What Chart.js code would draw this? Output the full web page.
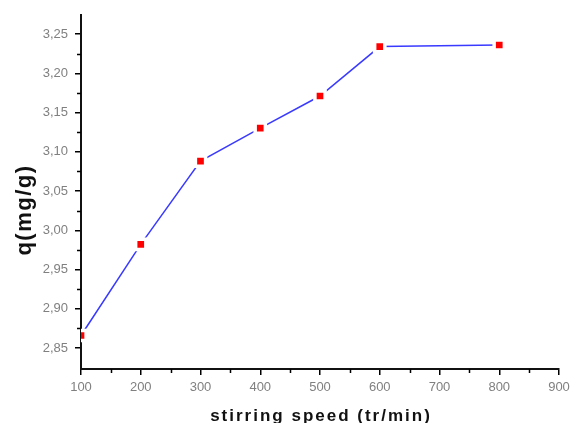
<!DOCTYPE html>
<html>
<head>
<meta charset="utf-8">
<script src="https://cdn.jsdelivr.net/npm/chart.js@4"></script>
<style>
  html, body { margin: 0; padding: 0; background: #fff; }
  #wrap { width: 571px; height: 423px; }
</style>
</head>
<body>
<div id="wrap"><canvas id="qChart" width="571" height="423"></canvas></div>
<script>
// data
const speeds = [100, 200, 300, 400, 500, 600, 800];
const qValues = [2.866, 2.982, 3.088, 3.130, 3.171, 3.234, 3.236];

const xTicks = [100, 200, 300, 400, 500, 600, 700, 800, 900];
const xMinorTicks = [150, 250, 350, 450, 550, 650, 750, 850];
const yTicks = [2.85, 2.90, 2.95, 3.00, 3.05, 3.10, 3.15, 3.20, 3.25];
const yMinorTicks = [2.875, 2.925, 2.975, 3.025, 3.075, 3.125, 3.175, 3.225];

const xTitle = 'stirring speed (tr/min)';
const yTitle = 'q(mg/g)';

const tickFont = { family: '"Liberation Sans", Arial, sans-serif', size: 13 };
const tickColor = '#808080';

// minor ticks + axis titles (Origin style)
const extrasPlugin = {
    id: 'extras',
    afterDraw(chart) {
        const ctx = chart.ctx;
        const area = chart.chartArea;
        const xs = chart.scales.x, ys = chart.scales.y;
        ctx.save();
        ctx.strokeStyle = '#000';
        ctx.lineWidth = 1.5;
        ctx.beginPath();
        yMinorTicks.forEach(v => {
            const y = Math.round(ys.getPixelForValue(v)) + 0.5;
            ctx.moveTo(area.left - 4, y);
            ctx.lineTo(area.left, y);
        });
        xMinorTicks.forEach(v => {
            const x = Math.round(xs.getPixelForValue(v)) + 0.5;
            ctx.moveTo(x, area.bottom);
            ctx.lineTo(x, area.bottom + 4);
        });
        ctx.stroke();

        ctx.fillStyle = '#111';
        ctx.textAlign = 'center';
        ctx.textBaseline = 'alphabetic';
        ctx.font = 'bold 17px "Liberation Sans", Arial, sans-serif';
        ctx.letterSpacing = '2px';
        ctx.fillText(xTitle, (area.left + area.right) / 2 + 1, 421);

        ctx.translate(31, 210);
        ctx.rotate(-Math.PI / 2);
        ctx.font = 'bold 22px "Liberation Sans", Arial, sans-serif';
        ctx.letterSpacing = '1.5px';
        ctx.fillText(yTitle, 0, 0);
        ctx.restore();
    }
};

const ctx = document.getElementById('qChart').getContext('2d');
const qChart = new Chart(ctx, {
    type: 'line',
    data: {
        labels: speeds,
        datasets: [
            {
                // markers with white halo so the line stops short of them
                data: speeds.map((s, i) => ({ x: s, y: qValues[i] })),
                showLine: false,
                pointStyle: 'rect',
                pointRadius: 7.2,
                pointHoverRadius: 7.2,
                pointBackgroundColor: '#ff0000',
                pointBorderColor: '#ffffff',
                pointBorderWidth: 3.5,
                borderWidth: 3.5
            },
            {
                data: speeds.map((s, i) => ({ x: s, y: qValues[i] })),
                borderColor: '#3a3aff',
                borderWidth: 1.5,
                pointRadius: 0,
                tension: 0
            }
        ]
    },
    options: {
        responsive: false,
        animation: false,
        events: [],
        layout: { padding: { left: 0, top: 15, right: 12, bottom: 0 } },
        plugins: {
            legend: { display: false },
            tooltip: { enabled: false }
        },
        scales: {
            x: {
                type: 'linear',
                min: 100,
                max: 900,
                z: 1,
                afterBuildTicks: scale => { scale.ticks = xTicks.map(v => ({ value: v })); },
                afterFit: scale => {
                    scale.height = 54;
                    scale.paddingLeft = 0;
                    scale.paddingRight = 0;
                },
                grid: { drawOnChartArea: false, drawTicks: true, tickLength: 6, color: '#000', lineWidth: 1.5 },
                border: { display: true, color: '#111', width: 2 },
                ticks: { color: tickColor, font: tickFont, padding: 5, maxRotation: 0 }
            },
            y: {
                type: 'linear',
                min: 2.8233,
                max: 3.2742,
                z: 1,
                afterBuildTicks: scale => { scale.ticks = yTicks.map(v => ({ value: v })); },
                afterFit: scale => {
                    scale.width = 81;
                    scale.paddingTop = 0;
                    scale.paddingBottom = 0;
                },
                grid: { drawOnChartArea: false, drawTicks: true, tickLength: 6, color: '#000', lineWidth: 1.5 },
                border: { display: true, color: '#111', width: 2 },
                ticks: {
                    color: tickColor,
                    font: tickFont,
                    padding: 7,
                    callback: v => v.toFixed(2).replace('.', ',')
                }
            }
        }
    },
    plugins: [extrasPlugin]
});
</script>
</body>
</html>
